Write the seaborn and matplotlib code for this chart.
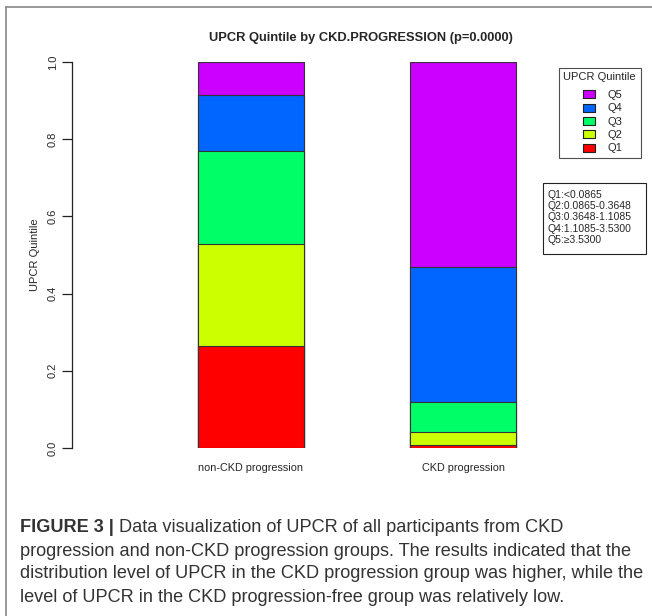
import pandas as pd
import seaborn as sns
import matplotlib.pyplot as plt
from matplotlib.lines import Line2D
from matplotlib.patches import Rectangle
import numpy as np

groups = ["non-CKD progression", "CKD progression"]
quintiles = ["Q1", "Q2", "Q3", "Q4", "Q5"]
non_ckd = [0.264, 0.264, 0.241, 0.146, 0.085]
ckd = [0.008, 0.033, 0.078, 0.350, 0.531]
colors = ["#FF0000", "#CCFF00", "#00FF66", "#0066FF", "#CC00FF"]
cutoffs = ["Q1:<0.0865", "Q2:0.0865-0.3648", "Q3:0.3648-1.1085",
           "Q4:1.1085-3.5300", "Q5:\u22653.5300"]
title = "UPCR Quintile by CKD.PROGRESSION (p=0.0000)"
caption_bold = "FIGURE 3 |"
caption_lines = [
    " Data visualization of UPCR of all participants from CKD",
    "progression and non-CKD progression groups. The results indicated that the",
    "distribution level of UPCR in the CKD progression group was higher, while the",
    "level of UPCR in the CKD progression-free group was relatively low.",
]

sns.set_style("white")
plt.rcParams['font.family'] = ['Liberation Sans', 'DejaVu Sans']

df = pd.DataFrame({'group': np.repeat(groups, len(quintiles)),
                   'quintile': quintiles * len(groups),
                   'value': non_ckd + ckd})
df['cum'] = df.groupby('group')['value'].cumsum()

W, H = 652, 616
fig = plt.figure(figsize=(W / 100, H / 100), dpi=100)
ax = fig.add_axes([72 / W, (H - 448) / H, 468 / W, 386 / H])

# stacked bars: draw cumulative tops from Q5 down to Q1
for q, c in zip(quintiles[::-1], colors[::-1]):
    sub = df[df['quintile'] == q]
    sns.barplot(data=sub, x='group', y='cum', order=groups, color=c, width=0.5,
                edgecolor='#333333', linewidth=0.8, saturation=1, ax=ax)

ax.set_xlim(-(251 - 72) / 212, (540 - 251) / 212)
ax.set_ylim(0, 1)
for s in ['top', 'right', 'bottom']:
    ax.spines[s].set_visible(False)
ax.spines['left'].set_color('#222222')
ax.spines['left'].set_linewidth(0.9)
ax.set_yticks([0, 0.2, 0.4, 0.6, 0.8, 1.0])
ax.set_yticklabels(['0.0', '0.2', '0.4', '0.6', '0.8', '1.0'], rotation=90, va='center')
ax.tick_params(axis='y', length=7, width=0.9, color='#222222', labelsize=8, pad=3, left=True)
ax.tick_params(axis='x', length=0, labelsize=7.8, pad=11)
ax.set_xlabel('')
ax.set_ylabel('UPCR Quintile', fontsize=8, labelpad=6)
ax.set_title(title, fontsize=9.3, fontweight='bold', x=(361 - 72) / 468, pad=15)

rect = [(-1, -0.75), (1, -0.75), (1, 0.75), (-1, 0.75), (-1, -0.75)]
handles = [Line2D([], [], marker=rect, linestyle='', markersize=8,
                  markerfacecolor=c, markeredgecolor='#222222', markeredgewidth=0.8)
           for c in colors[::-1]]
leg = fig.legend(handles, quintiles[::-1], title='UPCR Quintile',
                 loc='upper left', bbox_to_anchor=(559 / W, 1 - 68 / H),
                 fontsize=8, title_fontsize=8, frameon=True, fancybox=False,
                 edgecolor='#222222', borderpad=0.4, labelspacing=0.3,
                 handletextpad=0.55, borderaxespad=0, handlelength=2.15)
leg.get_frame().set_linewidth(0.8)
leg._legend_box.sep = 5.5

# cut-off box
fig.add_artist(Rectangle((543 / W, 1 - 254 / H), 103 / W, 71 / H, transform=fig.transFigure,
                         facecolor='white', edgecolor='#222222', linewidth=0.8))
fig.text(547 / W, 1 - 217.5 / H, "\n".join(cutoffs), fontsize=7.5, va='center', ha='left',
         linespacing=1.15)

# figure frame
fig.add_artist(Line2D([6 / W, 1], [1 - 7 / H, 1 - 7 / H], color='#888888', lw=1.2))
fig.add_artist(Line2D([6 / W, 6 / W], [0, 1 - 7 / H], color='#888888', lw=1.2))

# caption
cap_color = '#333333'
cap_size = 13.1
ys = [527, 551, 574, 597]
t = fig.text(20 / W, 1 - ys[0] / H, caption_bold, fontsize=cap_size, fontweight='bold',
             color=cap_color, va='center', ha='left')
fig.canvas.draw()
bb = t.get_window_extent(renderer=fig.canvas.get_renderer())
fig.text(bb.x1 / W, 1 - ys[0] / H, caption_lines[0], fontsize=cap_size,
         color=cap_color, va='center', ha='left')
for y, line in zip(ys[1:], caption_lines[1:]):
    fig.text(20 / W, 1 - y / H, line, fontsize=cap_size, color=cap_color, va='center', ha='left')

fig.savefig('out.png', dpi=100)
